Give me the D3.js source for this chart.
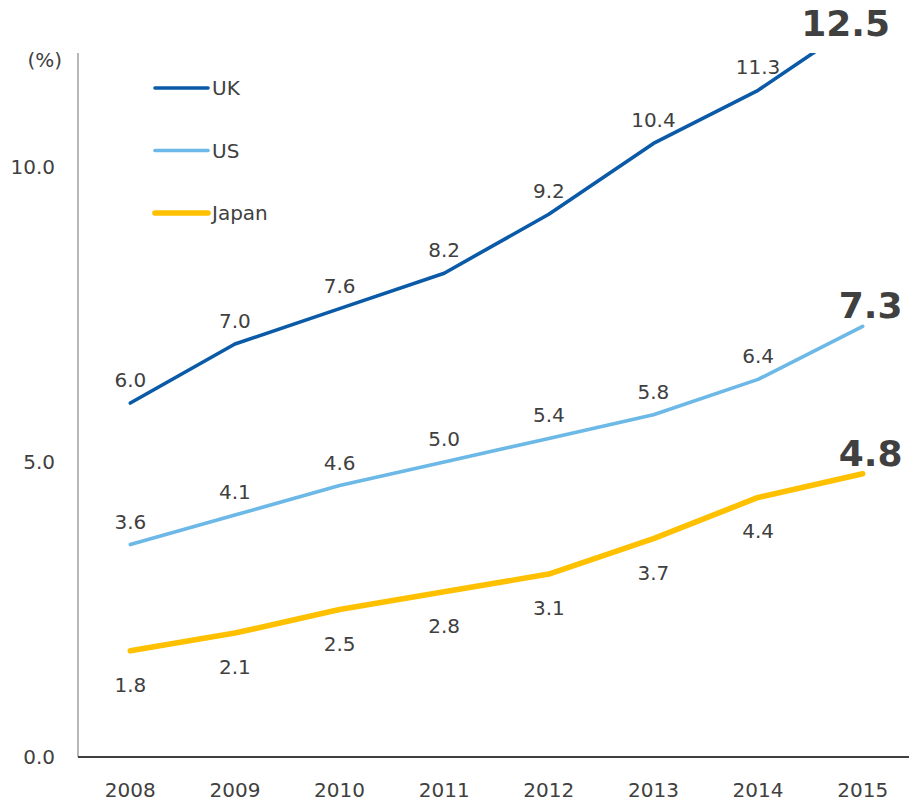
<!DOCTYPE html>
<html>
<head>
<meta charset="utf-8">
<script src="https://cdn.jsdelivr.net/npm/d3@7"></script>
<style>
  body { margin: 0; background: #fff; }
  text { font-family: "DejaVu Sans", Verdana, sans-serif; fill: #404040; }
</style>
</head>
<body>
<svg width="909" height="801"></svg>
<script>
var years = ["2008", "2009", "2010", "2011", "2012", "2013", "2014", "2015"];
var uk = [6.0, 7.0, 7.6, 8.2, 9.2, 10.4, 11.3, 12.5];
var us = [3.6, 4.1, 4.6, 5.0, 5.4, 5.8, 6.4, 7.3];
var japan = [1.8, 2.1, 2.5, 2.8, 3.1, 3.7, 4.4, 4.8];
var yTicks = [0, 5, 10];

var series = [
  { name: "UK", values: uk, color: "#0a5aa8", width: 3.6, below: false },
  { name: "US", values: us, color: "#6cb8e6", width: 3.6, below: false },
  { name: "Japan", values: japan, color: "#ffc000", width: 5.6, below: true }
];

var svg = d3.select("svg");
var plotLeft = 78, plotRight = 915, plotTop = 53, plotBottom = 757;

var x = d3.scalePoint().domain(years).range([plotLeft, plotRight]).padding(0.5);
var y = d3.scaleLinear().domain([0, 10]).range([plotBottom, 167]);

// clip so the UK line runs off the top like the original
svg.append("defs").append("clipPath").attr("id", "plot")
  .append("rect").attr("x", plotLeft).attr("y", plotTop)
  .attr("width", plotRight - plotLeft).attr("height", plotBottom - plotTop);

// y axis
svg.append("line")
  .attr("x1", plotLeft).attr("x2", plotLeft).attr("y1", plotTop).attr("y2", plotBottom)
  .attr("stroke", "#888").attr("stroke-width", 1.2);

svg.append("g").selectAll("text")
  .data(yTicks)
  .enter().append("text")
  .attr("x", 55)
  .attr("y", function(d) { return y(d); })
  .attr("dy", "0.35em")
  .attr("text-anchor", "end")
  .style("font-size", "20px")
  .text(function(d) { return d.toFixed(1); });

svg.append("text")
  .attr("x", 62).attr("y", 67)
  .attr("text-anchor", "end")
  .style("font-size", "20px")
  .text("(%)");

// x axis
svg.append("line")
  .attr("x1", plotLeft).attr("x2", 909).attr("y1", plotBottom).attr("y2", plotBottom)
  .attr("stroke", "#404040").attr("stroke-width", 2);

svg.append("g").selectAll("text")
  .data(years)
  .enter().append("text")
  .attr("x", function(d) { return x(d); })
  .attr("y", 797)
  .attr("text-anchor", "middle")
  .style("font-size", "20px")
  .text(function(d) { return d; });

var line = d3.line()
  .x(function(d, i) { return x(years[i]); })
  .y(function(d) { return y(d); });

svg.append("g").attr("clip-path", "url(#plot)")
  .selectAll("path")
  .data(series)
  .enter().append("path")
  .attr("d", function(d) { return line(d.values); })
  .attr("fill", "none")
  .attr("stroke", function(d) { return d.color; })
  .attr("stroke-width", function(d) { return d.width; })
  .attr("stroke-linecap", "round")
  .attr("stroke-linejoin", "round");

// value labels
series.forEach(function(s) {
  var n = s.values.length;
  svg.append("g").selectAll("text")
    .data(s.values.slice(0, n - 1))
    .enter().append("text")
    .attr("x", function(d, i) { return x(years[i]); })
    .attr("y", function(d) { return s.below ? y(d) + 41 : y(d) - 16; })
    .attr("text-anchor", "middle")
    .style("font-size", "20px")
    .text(function(d) { return d.toFixed(1); });

  // big end label, pushed back inside if it would run off the right
  var last = s.values[n - 1];
  var big = svg.append("text")
    .attr("y", Math.max(y(last) - 8, 36))
    .attr("text-anchor", "middle")
    .style("font-size", "36px")
    .style("font-weight", "bold")
    .text(last.toFixed(1));
  var w = big.node().getComputedTextLength();
  var cx = x(years[n - 1]) + 8;
  if (cx + w / 2 > 909) cx = 890 - w / 2;
  big.attr("x", cx);
});

// legend
var legend = svg.append("g").selectAll("g")
  .data(series)
  .enter().append("g")
  .attr("transform", function(d, i) { return "translate(155," + (88 + i * 62.5) + ")"; });

legend.append("line")
  .attr("x1", 0).attr("x2", 53)
  .attr("stroke", function(d) { return d.color; })
  .attr("stroke-width", function(d) { return d.width; })
  .attr("stroke-linecap", "round");

legend.append("text")
  .attr("x", 57)
  .attr("dy", "0.35em")
  .style("font-size", "20px")
  .text(function(d) { return d.name; });
</script>
</body>
</html>
